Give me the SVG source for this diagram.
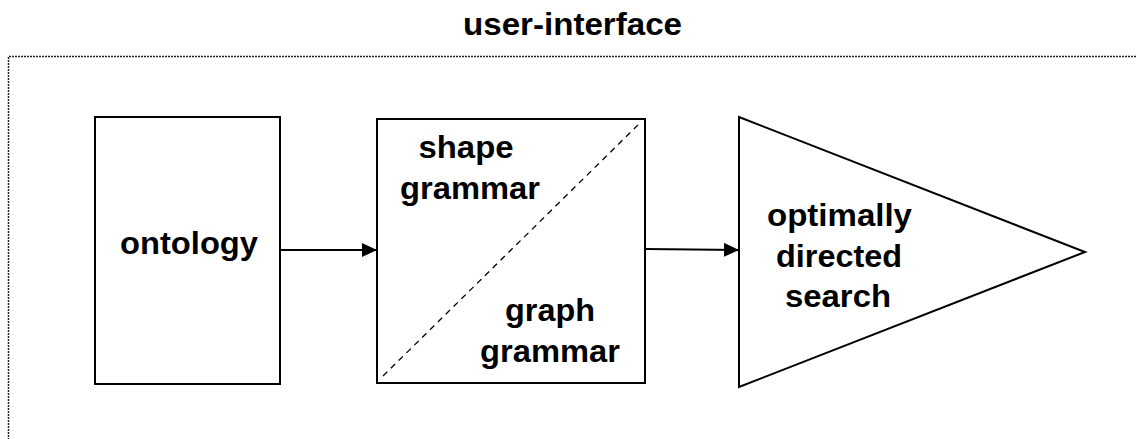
<svg xmlns="http://www.w3.org/2000/svg" width="1137" height="439" viewBox="0 0 1137 439">
<style>
.t{font-family:"Liberation Sans",Arial,sans-serif;font-weight:bold;font-size:31px;fill:#000;text-anchor:middle}
.box{fill:#fff;stroke:#000;stroke-width:2}
.edge{stroke:#000;stroke-width:2;fill:none}
</style>
<defs>
<marker id="ah" markerUnits="userSpaceOnUse" markerWidth="16" markerHeight="14" refX="15" refY="7" orient="auto">
<path d="M0,0 L15,7 L0,14 Z" fill="#000"/>
</marker>
</defs>
<rect width="1137" height="439" fill="#fff"/>
<g id="frame">
<path d="M8.5,440 L8.5,56.5 L1138,56.5" fill="none" stroke="#222" stroke-width="1.5" stroke-dasharray="2 1"/>
<text class="t" x="572.5" y="35" textLength="219" lengthAdjust="spacingAndGlyphs">user-interface</text>
</g>
<g id="ontology">
<rect class="box" x="95" y="117" width="185" height="267"/>
<text class="t" x="189" y="254" textLength="138" lengthAdjust="spacingAndGlyphs">ontology</text>
</g>
<g id="grammar">
<rect class="box" x="377" y="119" width="268" height="264"/>
<line x1="383" y1="376" x2="640" y2="123" stroke="#000" stroke-width="1.3" stroke-dasharray="6 5"/>
<text class="t" x="466" y="158" textLength="95" lengthAdjust="spacingAndGlyphs">shape</text>
<text class="t" x="470" y="199" textLength="140" lengthAdjust="spacingAndGlyphs">grammar</text>
<text class="t" x="550" y="321" textLength="90" lengthAdjust="spacingAndGlyphs">graph</text>
<text class="t" x="550" y="362" textLength="140" lengthAdjust="spacingAndGlyphs">grammar</text>
</g>
<g id="search">
<path class="box" d="M739,117 L1085,252 L739,387 Z"/>
<text class="t" x="839.5" y="226" textLength="145" lengthAdjust="spacingAndGlyphs">optimally</text>
<text class="t" x="839" y="267" textLength="126" lengthAdjust="spacingAndGlyphs">directed</text>
<text class="t" x="838" y="307" textLength="106" lengthAdjust="spacingAndGlyphs">search</text>
</g>
<g id="connectors">
<line class="edge" x1="281" y1="250" x2="377" y2="250" marker-end="url(#ah)"/>
<line class="edge" x1="646" y1="249" x2="739" y2="250" marker-end="url(#ah)"/>
</g>
</svg>
